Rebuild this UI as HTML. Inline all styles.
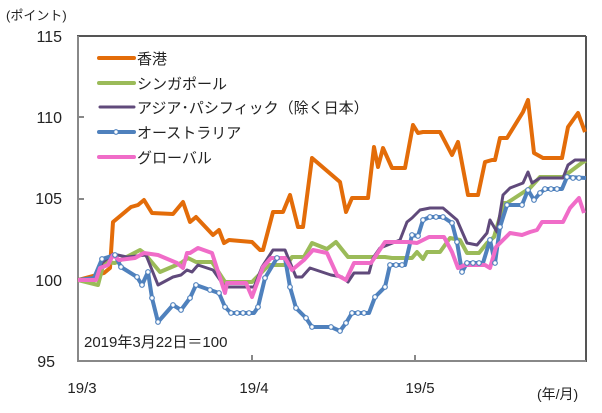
<!DOCTYPE html>
<html><head><meta charset="utf-8"><style>
body{margin:0;background:#fff;}
svg text{font-family:"Liberation Sans","Noto Sans CJK JP",sans-serif;fill:#222;}
</style></head><body>
<svg width="602" height="408" viewBox="0 0 602 408" xmlns="http://www.w3.org/2000/svg">
<rect width="602" height="408" fill="#fff"/>
<text x="6" y="20" font-size="13">(ポイント)</text>
<g font-size="16" text-anchor="end">
<text x="62" y="42">115</text>
<text x="62" y="123">110</text>
<text x="62" y="204">105</text>
<text x="62" y="286">100</text>
<text x="55" y="367">95</text>
</g>
<g font-size="15" text-anchor="middle">
<text x="82" y="393">19/3</text>
<text x="254" y="393">19/4</text>
<text x="420" y="393">19/5</text>
</g>
<text x="537" y="399" font-size="14">(年/月)</text>
<!-- frame -->
<line x1="77" y1="36" x2="586" y2="36" stroke="#555" stroke-width="2"/>
<line x1="586" y1="36" x2="586" y2="362" stroke="#555" stroke-width="2"/>
<line x1="78" y1="36" x2="78" y2="362" stroke="#888" stroke-width="2"/>
<line x1="77" y1="361" x2="586" y2="361" stroke="#888" stroke-width="2"/>
<g stroke="#888" stroke-width="2">
<line x1="78" y1="117" x2="84" y2="117"/><line x1="78" y1="199" x2="84" y2="199"/><line x1="78" y1="280" x2="84" y2="280"/>
<line x1="252" y1="355" x2="252" y2="361"/><line x1="415" y1="355" x2="415" y2="361"/>
</g>
<text x="84" y="347" font-size="15">2019年3月22日＝100</text>
<g fill="none" stroke-width="4" stroke-linejoin="round">
<polyline stroke="#E36C09" points="78,280 104,273 110,268 113,222 119,217 131,207 138,205 144,200 152,213 173,214 183,202 190,222 196,217 213,235 219,230 224,243 229,240 252,242 260,250 263,250 273,212 283,212 290,195 298,227 303,227 312,158 340,182 346,212 352,198 368,198 374,147 378,167 383,148 392,168 405,168 413,125 418,133 423,132 440,132 452,155 458,142 468,195 478,195 485,162 492,160 495,160 500,138 507,138 523,112 528,100 534,153 543,158 562,158 568,127 578,113 585,132"/>
<polyline stroke="#9BBB59" points="78,280 98,285 104,262 115,263 140,250 144,253 160,272 181,263 188,258 196,262 212,262 225,282 252,282 269,265 287,265 292,257 304,257 312,243 327,249 336,242 340,247 348,257 385,257 392,258 412,258 417,252 423,259 427,252 440,252 450,238 460,240 467,253 479,253 487,243 494,237 504,203 507,203 530,188 540,177 563,177 583,162 586,161"/>
<polyline stroke="#604A7B" stroke-width="3" points="78,280 96,280 102,263 113,254 127,257 146,255 158,285 173,277 181,275 187,270 192,272 198,265 213,270 225,287 254,287 262,267 273,250 285,250 296,277 302,277 310,268 331,275 342,277 348,282 354,273 369,273 373,258 380,248 400,240 407,222 412,218 420,210 430,208 443,208 457,220 467,243 477,245 487,233 490,220 497,232 503,195 510,188 523,183 528,172 532,183 540,178 563,178 568,165 575,160 586,160"/>
<polyline stroke="#4F81BD" points="78,280 94,278 102,259 115,255 121,267 137,277 142,285 148,272 152,298 158,322 173,305 181,310 190,298 196,285 210,290 219,293 225,307 231,313 254,313 258,307 265,278 277,258 285,258 290,287 296,308 306,318 312,327 331,327 340,331 346,323 352,313 369,313 375,297 385,287 390,265 405,265 412,235 418,236 423,220 430,217 443,217 452,223 457,242 462,272 467,263 483,263 490,240 495,263 500,227 507,205 522,205 528,190 534,200 540,193 545,189 562,189 567,177 586,178"/>
<polyline stroke="#F06CC8" points="78,280 96,280 100,268 108,265 113,255 119,260 135,258 144,253 158,255 177,263 183,268 187,253 190,253 198,248 212,253 225,293 227,283 246,283 252,297 263,267 271,258 285,258 292,270 304,260 313,250 327,253 337,275 346,280 354,263 371,263 385,242 408,242 417,243 429,237 444,237 452,252 458,268 465,265 485,265 490,268 496,247 510,233 522,235 530,232 537,230 542,222 563,222 570,208 579,198 584,213"/>
</g>
<g fill="#fff" stroke="#4F81BD" stroke-width="1.2">
<circle cx="102" cy="259" r="2.3"/><circle cx="115" cy="255" r="2.3"/><circle cx="121" cy="267" r="2.3"/><circle cx="137" cy="277" r="2.3"/><circle cx="142" cy="285" r="2.3"/><circle cx="148" cy="272" r="2.3"/><circle cx="152" cy="298" r="2.3"/><circle cx="158" cy="322" r="2.3"/><circle cx="173" cy="305" r="2.3"/><circle cx="181" cy="310" r="2.3"/><circle cx="190" cy="298" r="2.3"/><circle cx="196" cy="285" r="2.3"/><circle cx="210" cy="290" r="2.3"/><circle cx="219" cy="293" r="2.3"/><circle cx="225" cy="307" r="2.3"/><circle cx="231" cy="313" r="2.3"/><circle cx="237" cy="313" r="2.3"/><circle cx="243" cy="313" r="2.3"/><circle cx="249" cy="313" r="2.3"/><circle cx="258" cy="307" r="2.3"/><circle cx="265" cy="278" r="2.3"/><circle cx="277" cy="258" r="2.3"/><circle cx="290" cy="287" r="2.3"/><circle cx="296" cy="308" r="2.3"/><circle cx="306" cy="318" r="2.3"/><circle cx="312" cy="327" r="2.3"/><circle cx="331" cy="327" r="2.3"/><circle cx="340" cy="331" r="2.3"/><circle cx="346" cy="323" r="2.3"/><circle cx="352" cy="313" r="2.3"/><circle cx="358" cy="313" r="2.3"/><circle cx="364" cy="313" r="2.3"/><circle cx="375" cy="297" r="2.3"/><circle cx="385" cy="287" r="2.3"/><circle cx="390" cy="265" r="2.3"/><circle cx="396" cy="265" r="2.3"/><circle cx="402" cy="265" r="2.3"/><circle cx="412" cy="235" r="2.3"/><circle cx="418" cy="236" r="2.3"/><circle cx="423" cy="220" r="2.3"/><circle cx="430" cy="217" r="2.3"/><circle cx="436" cy="217" r="2.3"/><circle cx="443" cy="217" r="2.3"/><circle cx="452" cy="223" r="2.3"/><circle cx="457" cy="242" r="2.3"/><circle cx="462" cy="272" r="2.3"/><circle cx="467" cy="263" r="2.3"/><circle cx="473" cy="263" r="2.3"/><circle cx="479" cy="263" r="2.3"/><circle cx="490" cy="240" r="2.3"/><circle cx="495" cy="263" r="2.3"/><circle cx="500" cy="227" r="2.3"/><circle cx="507" cy="205" r="2.3"/><circle cx="522" cy="205" r="2.3"/><circle cx="528" cy="190" r="2.3"/><circle cx="534" cy="200" r="2.3"/><circle cx="540" cy="193" r="2.3"/><circle cx="545" cy="189" r="2.3"/><circle cx="551" cy="189" r="2.3"/><circle cx="557" cy="189" r="2.3"/><circle cx="567" cy="177" r="2.3"/><circle cx="573" cy="178" r="2.3"/><circle cx="579" cy="178" r="2.3"/>
</g>
<!-- legend -->
<g stroke-width="4" stroke-linecap="round">
<line x1="99" y1="58" x2="134" y2="58" stroke="#E36C09"/>
<line x1="99" y1="83" x2="134" y2="83" stroke="#9BBB59"/>
<line x1="100" y1="107" x2="134" y2="107" stroke="#604A7B" stroke-width="3"/>
<line x1="99" y1="132" x2="134" y2="132" stroke="#4F81BD"/>
<line x1="99" y1="157" x2="134" y2="157" stroke="#F06CC8"/>
</g>
<circle cx="116" cy="132" r="2.3" fill="#fff" stroke="#4F81BD" stroke-width="1.2"/>
<g font-size="15">
<text x="137" y="64">香港</text>
<text x="137" y="89">シンガポール</text>
<text x="137" y="113">アジア･パシフィック（除く日本）</text>
<text x="137" y="138">オーストラリア</text>
<text x="137" y="163">グローバル</text>
</g>
</svg>
</body></html>
